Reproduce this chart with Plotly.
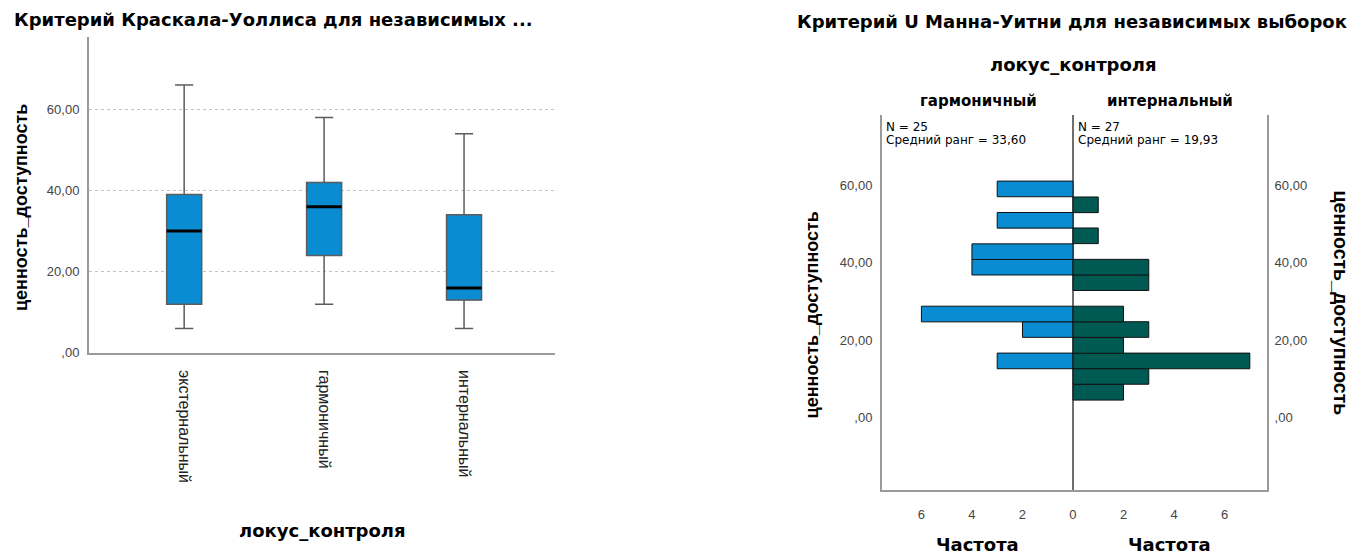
import plotly.graph_objects as go

# ---- Kruskal-Wallis panel: box summaries per group ----
groups = ["экстернальный", "гармоничный", "интернальный"]
q_low = [6, 12, 6]
q1 = [12, 24, 13]
median = [30, 36, 16]
q3 = [39, 42, 34]
q_high = [66, 58, 54]

y_ticks = [0, 20, 40, 60]
y_tick_text = [",00", "20,00", "40,00", "60,00"]

# ---- Mann-Whitney panel: frequency histogram per group ----
bin_centers = [6.6, 10.7, 14.7, 18.7, 22.8, 26.8, 30.8, 34.9, 38.9, 42.9, 47.0, 51.0, 55.0, 59.1]
freq_harmonic = [0, 0, 3, 0, 2, 6, 0, 0, 4, 4, 0, 3, 0, 3]
freq_internal = [2, 3, 7, 2, 3, 2, 0, 3, 3, 0, 1, 0, 1, 0]
bin_width = 4.04
n_harmonic, rank_harmonic = 25, "33,60"
n_internal, rank_internal = 27, "19,93"
freq_ticks = [-6, -4, -2, 0, 2, 4, 6]

W, H = 1355, 560
FONT = "Arial, Liberation Sans, sans-serif"
WIDE = "DejaVu Sans, Verdana, sans-serif"
BLUE = "#0a8cd2"
TEAL = "#005a54"
AXIS = "#9a9a9a"
TICKC = "#444444"


def px(x):
    return x / W


def py(y):
    return 1 - y / H


fig = go.Figure()

xs = list(range(len(groups)))
box_w = 0.25

# whiskers (box outline hidden beneath the filled bar)
fig.add_trace(go.Box(
    x=xs, q1=q1, median=median, q3=q3, lowerfence=q_low, upperfence=q_high,
    width=box_w, whiskerwidth=0.52, fillcolor=BLUE,
    line=dict(color="#5c5c5c", width=1.5), boxpoints=False,
    xaxis="x", yaxis="y", showlegend=False, hoverinfo="skip",
))
# interquartile boxes
fig.add_trace(go.Bar(
    x=xs, base=q1, y=[b - a for a, b in zip(q1, q3)], width=box_w,
    marker=dict(color=BLUE, line=dict(color="#56c4f2", width=1)),
    xaxis="x", yaxis="y", showlegend=False, hoverinfo="skip",
))
# median lines
mx, my = [], []
for i, m in zip(xs, median):
    mx += [i - box_w / 2, i + box_w / 2, None]
    my += [m, m, None]
fig.add_trace(go.Scatter(
    x=mx, y=my, mode="lines", line=dict(color="#000000", width=3),
    xaxis="x", yaxis="y", showlegend=False, hoverinfo="skip",
))

# mirrored histogram
hb_y = [c for c, f in zip(bin_centers, freq_harmonic) if f]
hb_x = [-f for f in freq_harmonic if f]
ib_y = [c for c, f in zip(bin_centers, freq_internal) if f]
ib_x = [f for f in freq_internal if f]
fig.add_trace(go.Bar(
    x=hb_x, y=hb_y, orientation="h", width=bin_width,
    marker=dict(color=BLUE, line=dict(color="#111111", width=1)),
    xaxis="x2", yaxis="y2", showlegend=False, hoverinfo="skip",
))
fig.add_trace(go.Bar(
    x=ib_x, y=ib_y, orientation="h", width=bin_width,
    marker=dict(color=TEAL, line=dict(color="#111111", width=1)),
    xaxis="x2", yaxis="y2", showlegend=False, hoverinfo="skip",
))
# carrier for the right-hand value axis
fig.add_trace(go.Scatter(
    x=[0], y=[0], mode="markers", marker=dict(opacity=0),
    xaxis="x2", yaxis="y3", showlegend=False, hoverinfo="skip",
))

tickfont = dict(family=FONT, size=13, color=TICKC)

fig.update_layout(
    width=W, height=H,
    margin=dict(l=0, r=0, t=0, b=0),
    paper_bgcolor="white", plot_bgcolor="white",
    barmode="overlay",
    font=dict(family=FONT, color="#000"),
    xaxis=dict(
        domain=[px(89), px(555)], range=[-0.68, 2.65],
        tickvals=xs, ticktext=groups, tickangle=90,
        tickfont=dict(family=FONT, size=16, color="#222"),
        ticks="outside", ticklen=12, tickcolor="rgba(0,0,0,0)",
        showline=True, linecolor=AXIS, linewidth=2,
        showgrid=False, zeroline=False, anchor="y",
    ),
    yaxis=dict(
        domain=[py(358), py(38)], range=[0, 77.7],
        tickvals=y_ticks, ticktext=y_tick_text, tickfont=tickfont,
        ticks="outside", ticklen=5, tickcolor="rgba(0,0,0,0)",
        showline=True, linecolor=AXIS, linewidth=2,
        showgrid=True, gridcolor="#c4c4c4", griddash="dot", gridwidth=1,
        zeroline=False, anchor="x",
    ),
    xaxis2=dict(
        domain=[px(882), px(1267)], range=[-7.56, 7.68],
        tickvals=freq_ticks, ticktext=[str(abs(t)) for t in freq_ticks],
        tickfont=tickfont,
        ticks="outside", ticklen=11, tickcolor="rgba(0,0,0,0)",
        showline=True, linecolor=AXIS, linewidth=2,
        showgrid=False, zeroline=True, zerolinecolor="#6e6e6e", zerolinewidth=1.5,
        anchor="y2",
    ),
    yaxis2=dict(
        domain=[py(497), py(117)], range=[-18.6, 78.1],
        tickvals=y_ticks, ticktext=y_tick_text, tickfont=tickfont,
        ticks="outside", ticklen=5, tickcolor="rgba(0,0,0,0)",
        showline=True, linecolor=AXIS, linewidth=2,
        showgrid=False, zeroline=False, anchor="x2",
    ),
    yaxis3=dict(
        domain=[py(497), py(117)], range=[-18.6, 78.1],
        overlaying="y2", side="right", anchor="x2",
        tickvals=y_ticks, ticktext=y_tick_text, tickfont=tickfont,
        ticks="outside", ticklen=3, tickcolor="rgba(0,0,0,0)",
        showline=True, linecolor=AXIS, linewidth=2,
        showgrid=False, zeroline=False,
    ),
)

ann = []


def label(text, x, y, size, bold=True, angle=0, xanchor="center", yanchor="middle",
          family=WIDE, color="#000"):
    ann.append(dict(
        text=f"<b>{text}</b>" if bold else text,
        x=px(x), y=py(y), xref="paper", yref="paper",
        xanchor=xanchor, yanchor=yanchor, showarrow=False, textangle=angle,
        font=dict(family=family, size=size, color=color),
    ))


label("Критерий Краскала-Уоллиса для независимых ...", 12, 20, 18, xanchor="left")
label("локус_контроля", 322, 538, 18)
label("ценность_доступность", 21, 211, 18, angle=-90, family=FONT)

label("Критерий U Манна-Уитни для независимых выборок", 795, 22, 18, xanchor="left")
label("локус_контроля", 1073, 65, 18)
label("гармоничный", 978, 102, 15)
label("интернальный", 1170, 102, 15)
label("Частота", 977, 552, 18)
label("Частота", 1169, 552, 18)
label("ценность_доступность", 812, 320, 18, angle=-90, family=FONT)
label("ценность_доступность", 1341, 307, 19.5, angle=90, family=FONT)

label(f"N = {n_harmonic}", 884, 129, 12, bold=False, xanchor="left")
label(f"Средний ранг = {rank_harmonic}", 884, 142, 12, bold=False, xanchor="left")
label(f"N = {n_internal}", 1076, 129, 12, bold=False, xanchor="left")
label(f"Средний ранг = {rank_internal}", 1076, 142, 12, bold=False, xanchor="left")

fig.update_layout(annotations=ann)

fig.write_html("out.html")
